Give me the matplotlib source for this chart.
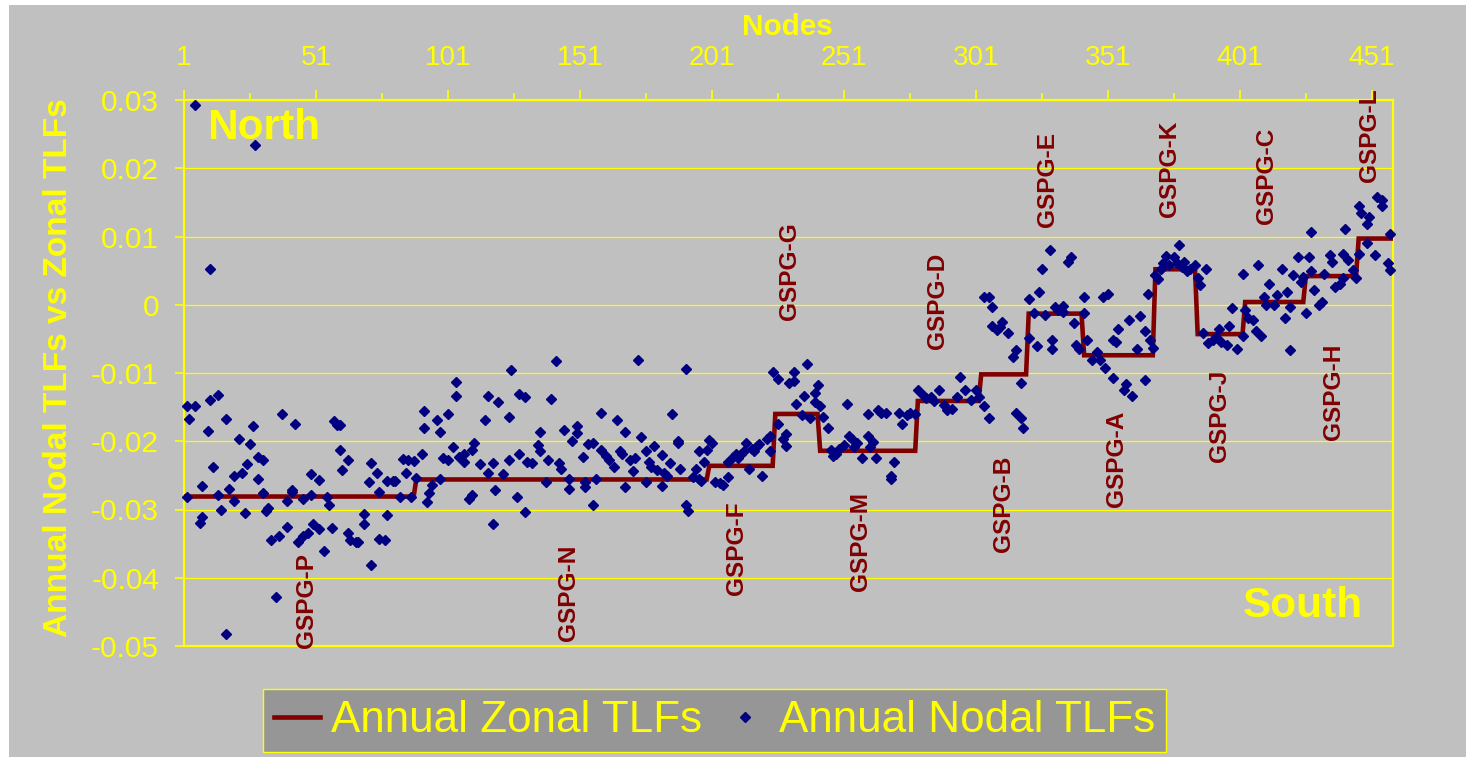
import numpy as np
import matplotlib
matplotlib.use("Agg")
import matplotlib.pyplot as plt
from matplotlib.patches import Rectangle
from matplotlib.lines import Line2D

plt.rcParams['font.family'] = ['Liberation Sans', 'DejaVu Sans']

# ---------------- data ----------------
N_NODES = 459
zone_names = ['GSPG-P', 'GSPG-N', 'GSPG-F', 'GSPG-G', 'GSPG-M', 'GSPG-D', 'GSPG-B',
              'GSPG-E', 'GSPG-A', 'GSPG-K', 'GSPG-J', 'GSPG-C', 'GSPG-H', 'GSPG-L']
zone_start_node = [1, 89, 200, 225, 242, 279, 303, 321, 342, 369, 385, 403, 426, 446]
zone_tlf = [-0.0281, -0.0256, -0.0236, -0.0160, -0.0214, -0.0141, -0.0102,
            -0.0013, -0.0074, 0.0052, -0.0043, 0.0004, 0.0042, 0.0097]

nodal_node = [
    2, 2, 3, 5, 5, 7, 8, 8, 10, 11, 11, 12, 14, 14, 15, 17, 17, 18, 20, 20, 22, 23, 24, 25, 26,
    27, 28, 29, 29, 31, 31, 32, 33, 34, 36, 37, 38, 40, 40, 42, 42, 43, 44, 46, 46, 48, 49, 49,
    50, 52, 52, 54, 55, 56, 57, 58, 59, 60, 60, 61, 63, 63, 64, 66, 67, 69, 69, 71, 72, 72, 74,
    75, 75, 77, 78, 78, 80, 81, 83, 84, 85, 86, 87, 88, 89, 91, 92, 92, 93, 94, 95, 97, 98, 98,
    99, 101, 101, 103, 104, 104, 105, 107, 107, 109, 110, 110, 111, 113, 115, 116, 116, 118,
    118, 119, 120,
    124, 125, 122, 124, 127, 128, 130, 128, 130, 131, 133, 135, 136, 136, 138, 139, 140, 142,
    143, 144, 145, 147, 147, 148, 150, 150, 152, 153, 153, 154, 156, 156, 157, 159, 159, 161,
    162, 164, 165, 166, 167, 168, 168, 170, 171, 172, 173, 174, 176, 176, 177, 178, 179, 180,
    182, 182, 183, 184, 185, 186, 188, 188, 189, 191, 191, 192, 194, 195, 196, 196, 197, 198,
    199, 200, 201, 202, 204, 205, 207, 207, 209, 210, 211, 212, 213, 214, 215, 216, 217, 218,
    219, 220, 222, 223, 223, 224, 226, 226, 228, 229, 229, 230, 232, 232, 233, 235, 236, 237,
    238, 240, 240, 241, 242, 243, 245, 246, 247, 248, 249, 251, 252, 253, 254, 255, 256, 258,
    260, 260, 261, 262, 263, 264, 265, 267, 269, 269, 270, 272, 273, 275, 276, 278, 279, 281,
    282, 284, 285, 287, 289, 290, 292, 294, 295, 297, 299, 301, 302, 304, 306, 304, 306, 307,
    307, 309,
    310, 311, 313, 315, 316, 318, 316, 318, 319, 321, 321, 323, 324, 325, 326, 327, 329, 330,
    330, 331, 332, 334, 334, 336, 337, 338, 339, 340, 342, 342, 343, 345, 347, 348, 350, 349,
    351, 353, 353, 354, 355, 357, 358, 359, 360, 362, 363, 365, 365, 367, 368, 366, 369, 370,
    371, 372, 373, 374, 376, 377, 378, 379, 380, 381, 382, 384, 385, 386, 388, 387, 389, 391,
    392, 393, 394, 396, 397, 398, 400, 402, 402, 403, 404, 406, 407, 409, 408, 410, 412, 411,
    414, 415, 417, 418, 419, 420, 420, 421, 423, 424, 425, 426, 427, 428, 429, 431, 432, 433,
    435, 436, 437, 439, 440, 440, 442, 444, 445, 446, 452, 457, 458,
    428, 441, 446, 447, 450, 449, 453, 455, 455, 458, 449]

nodal_tlf = [
    -0.0149, -0.0282, -0.0167, -0.0148, 0.0292, -0.0320, -0.0311, -0.0265, -0.0185, -0.0139,
    0.0052, -0.0237, -0.0132, -0.0279, -0.0300, -0.0482, -0.0167, -0.0270, -0.0251, -0.0287,
    -0.0197, -0.0246, -0.0305, -0.0233, -0.0204, -0.0178, 0.0234, -0.0223, -0.0256, -0.0228,
    -0.0276, -0.0302, -0.0298, -0.0344, -0.0428, -0.0339, -0.0160, -0.0325, -0.0287, -0.0272,
    -0.0275, -0.0174, -0.0348, -0.0339, -0.0285, -0.0335, -0.0248, -0.0279, -0.0321, -0.0329,
    -0.0257, -0.0361, -0.0282, -0.0293, -0.0327, -0.0170, -0.0176, -0.0176, -0.0213, -0.0242,
    -0.0227, -0.0335, -0.0344, -0.0348, -0.0347, -0.0306, -0.0321, -0.0259, -0.0232, -0.0381,
    -0.0246, -0.0275, -0.0343, -0.0344, -0.0308, -0.0258, -0.0258, -0.0258, -0.0281, -0.0226,
    -0.0246, -0.0227, -0.0282, -0.0229, -0.0254, -0.0218, -0.0155, -0.0181, -0.0289, -0.0276,
    -0.0264, -0.0169, -0.0186, -0.0256, -0.0225, -0.0160, -0.0227, -0.0208, -0.0134, -0.0113,
    -0.0223, -0.0230, -0.0218, -0.0284, -0.0279, -0.0213, -0.0202, -0.0234, -0.0169, -0.0134,
    -0.0246, -0.0232, -0.0321, -0.0271, -0.0143,
    -0.0164, -0.0096, -0.0248, -0.0227, -0.0281, -0.0218, -0.0303, -0.0131, -0.0135, -0.0231,
    -0.0232, -0.0205, -0.0215, -0.0186, -0.0260, -0.0227, -0.0138, -0.0082, -0.0232, -0.0241,
    -0.0183, -0.0270, -0.0256, -0.0200, -0.0178, -0.0188, -0.0223, -0.0259, -0.0267, -0.0204,
    -0.0293, -0.0202, -0.0256, -0.0158, -0.0213, -0.0222, -0.0228, -0.0237, -0.0169, -0.0215,
    -0.0218, -0.0267, -0.0187, -0.0227, -0.0243, -0.0225, -0.0081, -0.0194, -0.0215, -0.0260,
    -0.0230, -0.0237, -0.0207, -0.0242, -0.0220, -0.0266, -0.0246, -0.0251, -0.0232, -0.0160,
    -0.0202, -0.0200, -0.0240, -0.0094, -0.0293, -0.0302, -0.0253, -0.0240, -0.0215, -0.0255,
    -0.0258, -0.0231, -0.0213, -0.0198, -0.0202, -0.0259, -0.0261, -0.0264, -0.0252, -0.0230,
    -0.0223, -0.0218, -0.0225, -0.0219, -0.0215, -0.0202, -0.0241, -0.0212, -0.0215, -0.0207,
    -0.0204, -0.0251, -0.0197, -0.0215, -0.0192, -0.0098, -0.0109, -0.0174, -0.0197, -0.0207,
    -0.0190, -0.0115, -0.0111, -0.0099, -0.0145, -0.0162, -0.0133, -0.0087, -0.0166, -0.0129,
    -0.0142, -0.0118, -0.0149, -0.0164, -0.0181, -0.0213, -0.0222, -0.0219, -0.0212, -0.0205,
    -0.0145, -0.0193, -0.0196, -0.0208, -0.0202, -0.0225, -0.0160, -0.0193, -0.0208, -0.0201,
    -0.0225, -0.0154, -0.0159, -0.0159, -0.0251, -0.0256, -0.0230, -0.0159, -0.0174, -0.0162,
    -0.0159, -0.0160, -0.0125, -0.0132, -0.0137, -0.0135, -0.0141, -0.0125, -0.0147, -0.0154,
    -0.0153, -0.0135, -0.0106, -0.0125, -0.0140, -0.0125, -0.0135, -0.0149, -0.0166, 0.0012,
    0.0011, -0.0003, -0.0031, -0.0037,
    -0.0032, -0.0025, -0.0042, -0.0076, -0.0066, -0.0114, -0.0159, -0.0166, -0.0181, -0.0048,
    0.0008, -0.0012, -0.0061, 0.0018, 0.0053, -0.0015, 0.0080, -0.0052, -0.0065, -0.0004,
    -0.0008, -0.0010, -0.0002, 0.0063, 0.0070, -0.0027, -0.0059, -0.0065, -0.0012, 0.0011,
    -0.0052, -0.0081, -0.0069, -0.0081, -0.0092, 0.0012, 0.0016, -0.0108, -0.0052, -0.0054,
    -0.0036, -0.0125, -0.0116, -0.0023, -0.0134, -0.0065, -0.0017, -0.0110, -0.0039, -0.0052,
    -0.0064, 0.0016, 0.0044, 0.0037, 0.0053, 0.0061, 0.0071, 0.0058, 0.0070, 0.0061,
    0.0087, 0.0056, 0.0062, 0.0049, 0.0053, 0.0058, 0.0039, 0.0029, 0.0053, -0.0042,
    -0.0056, -0.0052, -0.0047, -0.0035, -0.0054, -0.0059, -0.0031, -0.0005, -0.0065, -0.0046,
    0.0045, -0.0008, -0.0020, -0.0022, -0.0039, -0.0046, 0.0058, 0.0012, 0.0031, -0.0001,
    -0.0001, 0.0014, 0.0053, -0.0020, 0.0019, -0.0066, -0.0003, 0.0044, 0.0070, 0.0034,
    0.0040, -0.0012, 0.0070, 0.0049, 0.0021, -0.0001, 0.0004, 0.0045, 0.0073, 0.0063,
    0.0026, 0.0031, 0.0039, 0.0075, 0.0066, 0.0051, 0.0039, 0.0075, 0.0073, 0.0061,
    0.0051,
    0.0106, 0.0111, 0.0144, 0.0134, 0.0129, 0.0118, 0.0158, 0.0153, 0.0145, 0.0104, 0.0090]

x_tick_values = [1, 51, 101, 151, 201, 251, 301, 351, 401, 451]
x_minor_values = [26, 76, 126, 176, 226, 276, 326, 376, 426]
y_tick_values = [-0.05, -0.04, -0.03, -0.02, -0.01, 0.0, 0.01, 0.02, 0.03]
y_tick_labels = ['-0.05', '-0.04', '-0.03', '-0.02', '-0.01', '0', '0.01', '0.02', '0.03']

# zone label anchor (node, value where the text starts)
zone_label_pos = [(47.5, -0.0503), (146.7, -0.0493), (210.4, -0.0425), (230.4, -0.0023),
                  (257.3, -0.0419), (286.5, -0.0065), (311.5, -0.0362), (328.2, 0.0114),
                  (354.3, -0.0296), (374.4, 0.0129), (393.3, -0.0230), (411.1, 0.0118),
                  (436.5, -0.0198), (450.1, 0.0180)]

# ---------------- figure ----------------
W, H = 1466, 757
BG = '#C0C0C0'
YEL = '#FFFF00'
DRED = '#800000'
NAVY = '#000080'

fig = plt.figure(figsize=(W / 100, H / 100), dpi=100)
fig.patch.set_facecolor('white')
fig.patches.append(Rectangle((9 / W, 0), 1, 1 - 5 / H, transform=fig.transFigure,
                             facecolor=BG, edgecolor='none', zorder=-10))

ax = fig.add_axes([184 / W, 1 - 646 / H, (1393 - 184) / W, (646 - 100) / H])
ax.set_facecolor(BG)

nodes = np.arange(1, N_NODES + 1)
counts = np.diff(zone_start_node + [N_NODES + 1])
zonal = np.repeat(zone_tlf, counts)

ax.plot(nodes, zonal, color=DRED, lw=3.3, zorder=3, solid_joinstyle='miter')
ax.plot(nodal_node, nodal_tlf, linestyle='none', marker='D', ms=5.4,
        color=NAVY, zorder=4, clip_on=False)

ax.set_xlim(1, N_NODES)
ax.set_ylim(-0.05, 0.03)

ax.xaxis.set_ticks_position('top')
ax.xaxis.set_label_position('top')
ax.set_xticks(x_tick_values)
ax.set_xticklabels([str(v) for v in x_tick_values])
ax.set_xticks(x_minor_values, minor=True)
ax.set_yticks(y_tick_values)
ax.set_yticklabels(y_tick_labels)

ax.tick_params(axis='x', which='major', direction='out', length=7.5, width=1.2,
               colors=YEL, labelsize=20, pad=13.5)
ax.tick_params(axis='x', which='minor', direction='out', length=5, width=1.2, colors=YEL)
ax.tick_params(axis='y', which='major', direction='out', length=6.5, width=1.2,
               colors=YEL, labelsize=21.5, pad=11.5)

for s in ax.spines.values():
    s.set_color(YEL)
    s.set_linewidth(1.6)

ax.yaxis.grid(True, color=YEL, lw=0.9)
ax.set_axisbelow(True)

for name, (xn, yv) in zip(zone_names, zone_label_pos):
    ax.text(xn, yv, name, rotation=90, rotation_mode='anchor', ha='left', va='center',
            fontsize=17.6, fontweight='bold', color=DRED, zorder=5)

fig.text(67 / W, 1 - 368 / H, 'Annual Nodal TLFs vs Zonal TLFs', rotation=90,
         rotation_mode='anchor', ha='center', va='baseline', fontsize=24,
         fontweight='bold', color=YEL)
fig.text(787 / W, 1 - 35 / H, 'Nodes', ha='center', va='baseline', fontsize=21.4,
         fontweight='bold', color=YEL)
fig.text(207 / W, 1 - 139 / H, 'North', ha='left', va='baseline', fontsize=30.5,
         fontweight='bold', color=YEL)
fig.text(1363 / W, 1 - 617 / H, 'South', ha='right', va='baseline', fontsize=30.5,
         fontweight='bold', color=YEL)

h1 = Line2D([], [], color=DRED, lw=3.3)
h2 = Line2D([], [], color=NAVY, marker='D', ms=5.2, linestyle='none')
leg = fig.legend([h1, h2], ['Annual Zonal TLFs', 'Annual Nodal TLFs'], loc='center',
                 bbox_to_anchor=(714.5 / W, 1 - 720.5 / H), ncol=2, fontsize=31.7,
                 frameon=True, fancybox=False, facecolor='#969696', edgecolor=YEL,
                 framealpha=1, handlelength=1.05, handletextpad=0.25, columnspacing=0.45,
                 borderpad=0.25, borderaxespad=0)
leg.get_frame().set_linewidth(1.0)
for t in leg.get_texts():
    t.set_color(YEL)

fig.savefig('out.png', dpi=100, facecolor=fig.get_facecolor())
